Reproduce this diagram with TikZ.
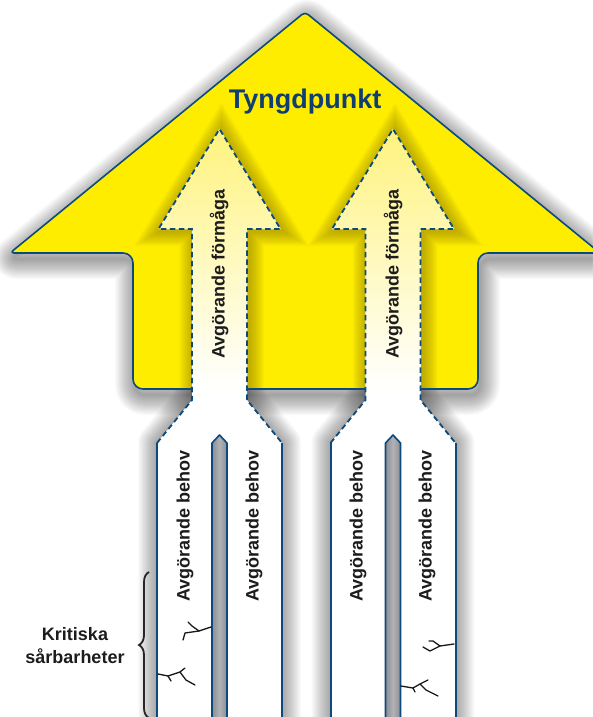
\documentclass[tikz,border=0pt]{standalone}
\usepackage{fontspec}
\setmainfont{Liberation Sans}
\usetikzlibrary{decorations.pathreplacing}
\definecolor{ayellow}{RGB}{255,237,0}
\definecolor{ablue}{RGB}{12,74,125}
\definecolor{tblue}{RGB}{16,62,112}
\definecolor{lyellow}{RGB}{255,243,125}
\definecolor{glowcol}{RGB}{130,110,0}
\definecolor{divgray}{RGB}{140,142,148}
\definecolor{divlight}{RGB}{176,178,182}
\definecolor{txtcol}{RGB}{28,28,28}
\newcommand\BigArrowPath{(305,389) [rounded corners=10] -- (133,389) -- (133,253) [rounded corners=4] -- (10,253) -- (305,12) -- (600,253) [rounded corners=10] -- (478,253) -- (478,389) -- cycle}
\newcommand\ChanPath[1]{({#1-62.5},730) -- ({#1-62.5},443) -- ({#1-27.5},400) -- ({#1-27.5},229) -- ({#1-61},229) -- (#1,129) -- ({#1+61},229) -- ({#1+27.5},229) -- ({#1+27.5},400) -- ({#1+62.5},443) -- ({#1+62.5},730) -- cycle}
\newcommand\ChanDash[1]{({#1-62.5},443) -- ({#1-27.5},400) -- ({#1-27.5},229) -- ({#1-61},229) -- (#1,129) -- ({#1+61},229) -- ({#1+27.5},229) -- ({#1+27.5},400) -- ({#1+62.5},443)}
\newcommand\DivPath[1]{({#1-7.5},730) -- ({#1-7.5},443) -- (#1,435) -- ({#1+7.5},443) -- ({#1+7.5},730) -- cycle}
\begin{document}
\begin{tikzpicture}[x=1pt,y=-1pt,
  outline/.style={draw=ablue, line width=1.6pt, line join=round},
  dashline/.style={draw=ablue, line width=1.8pt, dash pattern=on 5.5pt off 3.5pt},
  colline/.style={draw=ablue, line width=2pt},
  btext/.style={font=\fontsize{18}{22}\selectfont\bfseries, text=txtcol, inner sep=0pt},
  crack/.style={draw=black!90, line width=1.3pt, line cap=round, line join=round},
  bracestyle/.style={draw=black!85, line width=1.8pt, decorate, decoration={brace, amplitude=10pt}}]
\useasboundingbox (0,0) rectangle (592,717);
\fill[white] (0,0) rectangle (592,717);
% shadows
\begin{scope}[shift={(2,6)}]
\foreach \w in {2,4,...,40} \draw[line width=\w pt, black, opacity=0.02, line join=round] \BigArrowPath;
\end{scope}
\foreach \c in {219.5,393} {
  \foreach \w in {2,4,...,38} \draw[line width=\w pt, black, opacity=0.02, line join=round] \ChanPath{\c};
}
% big yellow arrow
\fill[ayellow] \BigArrowPath;
\begin{scope}
\clip \BigArrowPath;
\foreach \c in {219.5,393} {
  \begin{scope}[shift={(2,2)}]
  \foreach \w in {2,4,...,30} \draw[line width=\w pt, glowcol, opacity=0.04, line join=miter] \ChanPath{\c};
  \end{scope}
}
\end{scope}
\draw[outline] \BigArrowPath;
% channels
\foreach \c in {219.5,393} {
  \begin{scope}
    \clip \ChanPath{\c};
    \fill[white] ({\c-70},120) rectangle ({\c+70},730);
    \shade[top color=lyellow, bottom color=white] ({\c-70},128) rectangle ({\c+70},389);
  \end{scope}
  \draw[dashline] \ChanDash{\c};
  \draw[colline] ({\c-62.5},443) -- ({\c-62.5},730);
  \draw[colline] ({\c+62.5},443) -- ({\c+62.5},730);
  \shade[left color=divgray, right color=divgray, middle color=divlight] \DivPath{\c};
  \draw[draw=ablue, line width=1.6pt, line join=round] \DivPath{\c};
}
% texts
\node[font=\fontsize{27}{30}\selectfont\bfseries, text=tblue, inner sep=0pt] (tp) at (305,102) {Tyngdpunkt};
\node[btext, rotate=90] (f1) at (219,274) {Avgörande förmåga};
\node[btext, rotate=90] (f2) at (393,274) {Avgörande förmåga};
\node[btext, rotate=90] (b1) at (185,526) {Avgörande behov};
\node[btext, rotate=90] (b2) at (254,526) {Avgörande behov};
\node[btext, rotate=90] (b3) at (358,526) {Avgörande behov};
\node[btext, rotate=90] (b4) at (427,526) {Avgörande behov};
\node[btext, align=center, font=\fontsize{18}{23}\selectfont\bfseries] (krit) at (75,646) {Kritiska\\sårbarheter};
% brace
\coordinate (braceBot) at (149,718);
\coordinate (braceTop) at (149,572);
\draw[bracestyle] (braceBot) -- (braceTop);
% cracks
\draw[crack] (211,627) -- (199,631) -- (192,626) -- (188,622);
\draw[crack] (199,631) -- (185,633) -- (183,640);
\draw[crack] (158,674) -- (168,676) -- (171,681);
\draw[crack] (168,676) -- (180,672) -- (185,668);
\draw[crack] (180,672) -- (186,680) -- (195,685);
\draw[crack] (454,644) -- (440,646) -- (433,641) -- (429,641);
\draw[crack] (440,646) -- (430,651) -- (423,647);
\draw[crack] (401,686) -- (413,688) -- (415,692);
\draw[crack] (413,688) -- (420,684) -- (428,680);
\draw[crack] (420,684) -- (426,690) -- (438,696);
\end{tikzpicture}
\end{document}
